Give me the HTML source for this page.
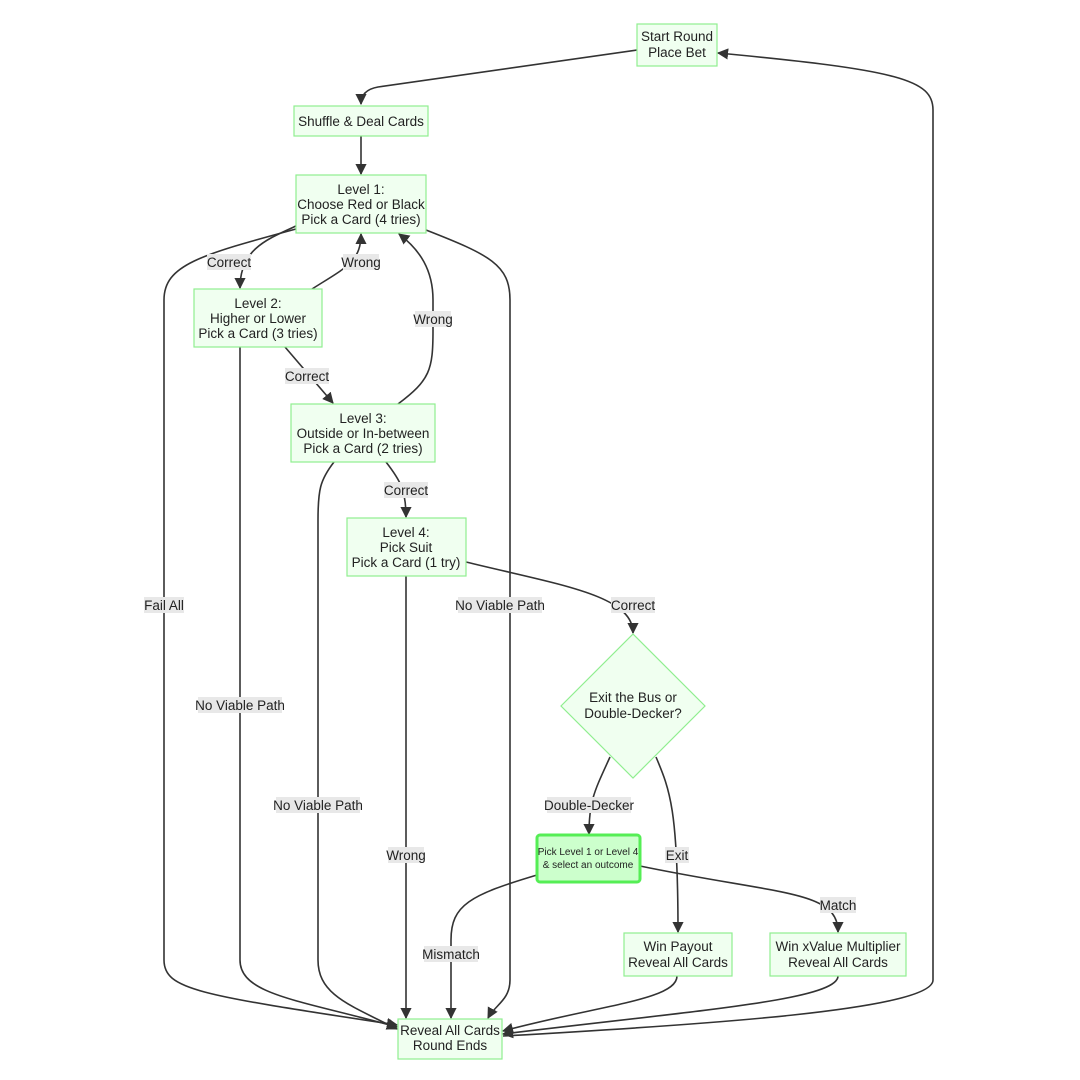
<!DOCTYPE html>
<html><head><meta charset="utf-8"><style>
html,body{margin:0;padding:0;background:#fff;}
svg{display:block;font-family:"Liberation Sans","DejaVu Sans",sans-serif;}
.n{fill:#f0fff0;stroke:#90ee90;stroke-width:1.2;}
.e{fill:none;stroke:#333;stroke-width:1.6;}
.t{font-size:13.5px;fill:#222;text-anchor:middle;}
.lb{fill:#e8e8e8;}
</style></head><body>
<svg width="1080" height="1080" viewBox="0 0 1080 1080">
<defs><marker id="a" viewBox="0 0 10 10" refX="9" refY="5" markerWidth="7" markerHeight="7" orient="auto-start-reverse"><path d="M0,0 L10,5 L0,10 z" fill="#333"/></marker></defs>
<g class="e" marker-end="url(#a)">
<path d="M637,50 L378,87 Q361,90 361,104"/>
<path d="M361,136 L361,174"/>
<path d="M296,226 C265,240 240,250 240,288"/>
<path d="M312,289 C345,268 361,262 361,234"/>
<path d="M296,229 C200,255 164,265 164,300 L164,960 C164,990 200,995 397,1025"/>
<path d="M240,347 L240,960 C240,995 300,1000 397,1027"/>
<path d="M285,347 L333,403"/>
<path d="M398,404 C430,380 433,370 433,330 L433,300 C433,270 420,250 399,234"/>
<path d="M426,230 C490,255 510,265 510,300 L510,980 C510,1000 495,1005 488,1018"/>
<path d="M334,462 C320,480 318,490 318,520 L318,960 C318,995 350,1005 397,1029"/>
<path d="M386,462 C400,480 406,490 406,517"/>
<path d="M406,576 L406,1018"/>
<path d="M466,562 C560,585 633,595 633,633"/>
<path d="M610,757 C595,790 589,800 589,834"/>
<path d="M656,757 C670,790 678,810 678,932"/>
<path d="M537,875 C470,895 451,905 451,940 L451,1018"/>
<path d="M640,866 C780,895 838,890 838,932"/>
<path d="M677,976 C677,1000 600,1005 503,1031"/>
<path d="M838,976 C838,1000 700,1010 503,1034"/>
<path d="M503,1036 C700,1025 933,1010 933,980 L933,110 C933,80 900,70 718,53"/>
</g>
<rect class="n" x="637" y="24" width="80" height="42"/>
<text class="t" x="677" y="41">Start Round</text><text class="t" x="677" y="57">Place Bet</text>
<rect class="n" x="294" y="106" width="134" height="30"/>
<text class="t" x="361" y="126">Shuffle &amp; Deal Cards</text>
<rect class="n" x="296" y="175" width="130" height="58"/>
<text class="t" x="361" y="194">Level 1:</text><text class="t" x="361" y="209">Choose Red or Black</text><text class="t" x="361" y="224">Pick a Card (4 tries)</text>
<rect class="n" x="194" y="289" width="128" height="58"/>
<text class="t" x="258" y="308">Level 2:</text><text class="t" x="258" y="323">Higher or Lower</text><text class="t" x="258" y="338">Pick a Card (3 tries)</text>
<rect class="n" x="291" y="404" width="144" height="58"/>
<text class="t" x="363" y="423">Level 3:</text><text class="t" x="363" y="438">Outside or In-between</text><text class="t" x="363" y="453">Pick a Card (2 tries)</text>
<rect class="n" x="347" y="518" width="119" height="58"/>
<text class="t" x="406" y="537">Level 4:</text><text class="t" x="406" y="552">Pick Suit</text><text class="t" x="406" y="567">Pick a Card (1 try)</text>
<polygon class="n" points="633,634 705,706 633,778 561,706"/>
<text class="t" x="633" y="702">Exit the Bus or</text><text class="t" x="633" y="718">Double-Decker?</text>
<rect x="537" y="835" width="103" height="47" rx="3" fill="#ccffcc" stroke="#55ee55" stroke-width="3"/>
<text class="t" x="588" y="855" style="font-size:10px">Pick Level 1 or Level 4</text><text class="t" x="588" y="868" style="font-size:10px">&amp; select an outcome</text>
<rect class="n" x="624" y="933" width="108" height="43"/>
<text class="t" x="678" y="951">Win Payout</text><text class="t" x="678" y="967">Reveal All Cards</text>
<rect class="n" x="770" y="933" width="136" height="43"/>
<text class="t" x="838" y="951">Win xValue Multiplier</text><text class="t" x="838" y="967">Reveal All Cards</text>
<rect class="n" x="398" y="1019" width="104" height="40"/>
<text class="t" x="450" y="1035">Reveal All Cards</text><text class="t" x="450" y="1050">Round Ends</text>
<g>
<rect class="lb" x="207" y="254" width="44" height="16"/><text class="t" x="229" y="267">Correct</text>
<rect class="lb" x="343" y="254" width="36" height="16"/><text class="t" x="361" y="267">Wrong</text>
<rect class="lb" x="415" y="311" width="36" height="16"/><text class="t" x="433" y="324">Wrong</text>
<rect class="lb" x="285" y="368" width="44" height="16"/><text class="t" x="307" y="381">Correct</text>
<rect class="lb" x="384" y="482" width="44" height="16"/><text class="t" x="406" y="495">Correct</text>
<rect class="lb" x="144" y="597" width="40" height="16"/><text class="t" x="164" y="610">Fail All</text>
<rect class="lb" x="458" y="597" width="84" height="16"/><text class="t" x="500" y="610">No Viable Path</text>
<rect class="lb" x="611" y="597" width="44" height="16"/><text class="t" x="633" y="610">Correct</text>
<rect class="lb" x="198" y="697" width="84" height="16"/><text class="t" x="240" y="710">No Viable Path</text>
<rect class="lb" x="276" y="797" width="84" height="16"/><text class="t" x="318" y="810">No Viable Path</text>
<rect class="lb" x="547" y="797" width="84" height="16"/><text class="t" x="589" y="810">Double-Decker</text>
<rect class="lb" x="388" y="847" width="36" height="16"/><text class="t" x="406" y="860">Wrong</text>
<rect class="lb" x="665" y="847" width="24" height="16"/><text class="t" x="677" y="860">Exit</text>
<rect class="lb" x="820" y="897" width="36" height="16"/><text class="t" x="838" y="910">Match</text>
<rect class="lb" x="424" y="946" width="54" height="16"/><text class="t" x="451" y="959">Mismatch</text>
</g>
</svg>
</body></html>
